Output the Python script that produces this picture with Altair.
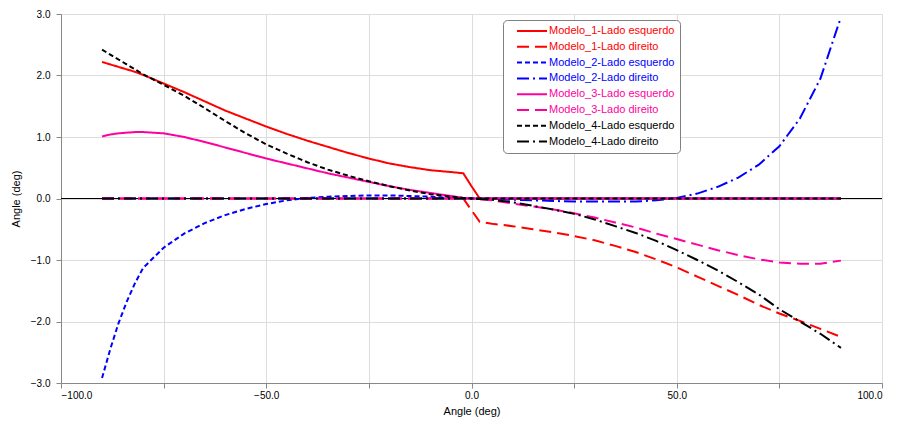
import altair as alt
import pandas as pd

x_vals = [-90, -88, -86, -84, -82, -80, -75, -70, -65, -60, -55, -50, -45, -40, -35, -30,
          -25, -20, -15, -10, -5, -2, 0, 2, 5, 10, 15, 20, 25, 30, 35, 40, 45, 50, 55, 60,
          65, 70, 75, 80, 85, 90]

n_right = 18  # points from 5 to 90
n_left = 21   # points from -90 to -5

m1_esq = [2.22, 2.18, 2.14, 2.10, 2.06, 2.01, 1.87, 1.73, 1.58, 1.43, 1.30, 1.17, 1.05,
          0.94, 0.84, 0.74, 0.65, 0.57, 0.51, 0.46, 0.43, 0.41, 0.20, 0.0] + [0.0] * n_right
m1_dir = [0.0] * n_left + [0.0, -0.19, -0.38,
          -0.41, -0.45, -0.50, -0.55, -0.61, -0.68, -0.77, -0.87, -0.99, -1.12, -1.27,
          -1.42, -1.57, -1.73, -1.87, -1.99, -2.12, -2.25]
m2_esq = [-2.92, -2.45, -2.03, -1.68, -1.38, -1.13, -0.80, -0.57, -0.40, -0.27, -0.17,
          -0.09, -0.03, 0.01, 0.03, 0.04, 0.05, 0.05, 0.04, 0.03, 0.01, 0.0, 0.0, 0.0] + [0.0] * n_right
m2_dir = [0.0] * n_left + [0.0, 0.0, 0.0,
          -0.01, -0.02, -0.03, -0.04, -0.05, -0.05, -0.05, -0.05, -0.03, 0.01, 0.08,
          0.19, 0.34, 0.55, 0.85, 1.30, 1.95, 2.95]
m3_esq = [1.01, 1.04, 1.06, 1.07, 1.08, 1.08, 1.06, 1.00, 0.92, 0.83, 0.74, 0.65, 0.57,
          0.49, 0.41, 0.34, 0.27, 0.20, 0.14, 0.09, 0.04, 0.01, 0.0, 0.0] + [0.0] * n_right
m3_dir = [0.0] * n_left + [0.0, 0.0, -0.01,
          -0.03, -0.08, -0.13, -0.18, -0.24, -0.31, -0.39, -0.47, -0.57, -0.66, -0.75,
          -0.84, -0.92, -0.99, -1.04, -1.06, -1.06, -1.01]
m4_esq = [2.42, 2.34, 2.26, 2.18, 2.10, 2.02, 1.85, 1.67, 1.47, 1.26, 1.06, 0.88, 0.73,
          0.59, 0.47, 0.37, 0.28, 0.20, 0.13, 0.07, 0.03, 0.01, 0.0, 0.0] + [0.0] * n_right
m4_dir = [0.0] * n_left + [0.0, 0.0, -0.01,
          -0.02, -0.06, -0.12, -0.18, -0.25, -0.34, -0.45, -0.56, -0.69, -0.84, -1.00,
          -1.17, -1.36, -1.56, -1.80, -2.00, -2.20, -2.43]

series_names = ["Modelo_1-Lado esquerdo", "Modelo_1-Lado direito",
                "Modelo_2-Lado esquerdo", "Modelo_2-Lado direito",
                "Modelo_3-Lado esquerdo", "Modelo_3-Lado direito",
                "Modelo_4-Lado esquerdo", "Modelo_4-Lado direito"]
series_values = [m1_esq, m1_dir, m2_esq, m2_dir, m3_esq, m3_dir, m4_esq, m4_dir]

model_colors = {"Modelo_1": "#ff0000", "Modelo_2": "#0000ff",
                "Modelo_3": "#ff00a0", "Modelo_4": "#000000"}
series_colors = [model_colors[s.split("-")[0]] for s in series_names]
series_dashes = [[1, 0], [12, 6], [5, 3], [12, 4, 2, 4],
                 [1, 0], [12, 6], [5, 3], [12, 4, 2, 4]]

rows = []
for name, vals in zip(series_names, series_values):
    for xv, yv in zip(x_vals, vals):
        rows.append({"x": xv, "y": yv, "series": name})
df = pd.DataFrame(rows)

label_expr_color = ("substring(datum.label, 0, 8) === 'Modelo_1' ? '#ff0000' : "
                    "substring(datum.label, 0, 8) === 'Modelo_2' ? '#0000ff' : "
                    "substring(datum.label, 0, 8) === 'Modelo_3' ? '#ff00a0' : '#000000'")

x_ticks = list(range(-100, 101, 25))
y_ticks = [v / 2 for v in range(-6, 7)]

zero = alt.Chart(pd.DataFrame({"y": [0.0]})).mark_rule(color="black", strokeWidth=1).encode(
    y=alt.Y("y:Q")
)

lines = alt.Chart(df).mark_line(strokeWidth=2, clip=True).encode(
    x=alt.X("x:Q",
            scale=alt.Scale(domain=[-100, 100], nice=False, zero=False),
            axis=alt.Axis(title="Angle (deg)", values=x_ticks,
                          labelExpr="datum.value % 50 === 0 ? format(datum.value, '.1f') : ''",
                          tickSize=5, labelPadding=2, titlePadding=5,
                          titleFontWeight="normal")),
    y=alt.Y("y:Q",
            scale=alt.Scale(domain=[-3, 3], nice=False, zero=False),
            axis=alt.Axis(title="Angle (deg)", values=y_ticks,
                          labelExpr="datum.value % 1 === 0 ? format(datum.value, '.1f') : ''",
                          tickSize=5, labelPadding=6, titlePadding=9,
                          titleFontWeight="normal")),
    color=alt.Color("series:N",
                    scale=alt.Scale(domain=series_names, range=series_colors),
                    sort=series_names,
                    legend=alt.Legend(title=None, orient="none", legendX=442, legendY=6,
                                      symbolType="stroke", symbolSize=900,
                                      symbolStrokeWidth=2, labelOffset=1,
                                      symbolOffset=8, clipHeight=12,
                                      labelColor={"expr": label_expr_color},
                                      labelFontSize=11, labelFont="Liberation Sans",
                                      rowPadding=3.8, padding=5, cornerRadius=4,
                                      strokeColor="#808080", fillColor="white",
                                      labelLimit=300)),
    strokeDash=alt.StrokeDash("series:N",
                              scale=alt.Scale(domain=series_names, range=series_dashes),
                              sort=series_names,
                              legend=alt.Legend(title=None, orient="none", legendX=442, legendY=6)),
    detail="series:N",
)

chart = alt.layer(zero, lines).properties(
    width=821, height=369,
    autosize=alt.AutoSizeParams(type="none"),
    padding={"left": 53, "top": 6, "right": 9, "bottom": 39},
).configure_view(
    stroke="#606060", strokeWidth=1
).configure_axis(
    gridColor="#c8c8c8", gridWidth=1, domainColor="black", tickColor="black",
    labelFont="Liberation Sans", labelFontSize=11, labelColor="#111111",
    titleFont="Liberation Sans", titleFontSize=11, titleFontWeight="normal", titleColor="black",
).configure(background="white")

chart.save("out.html", embed_options={"renderer": "svg", "actions": False})
